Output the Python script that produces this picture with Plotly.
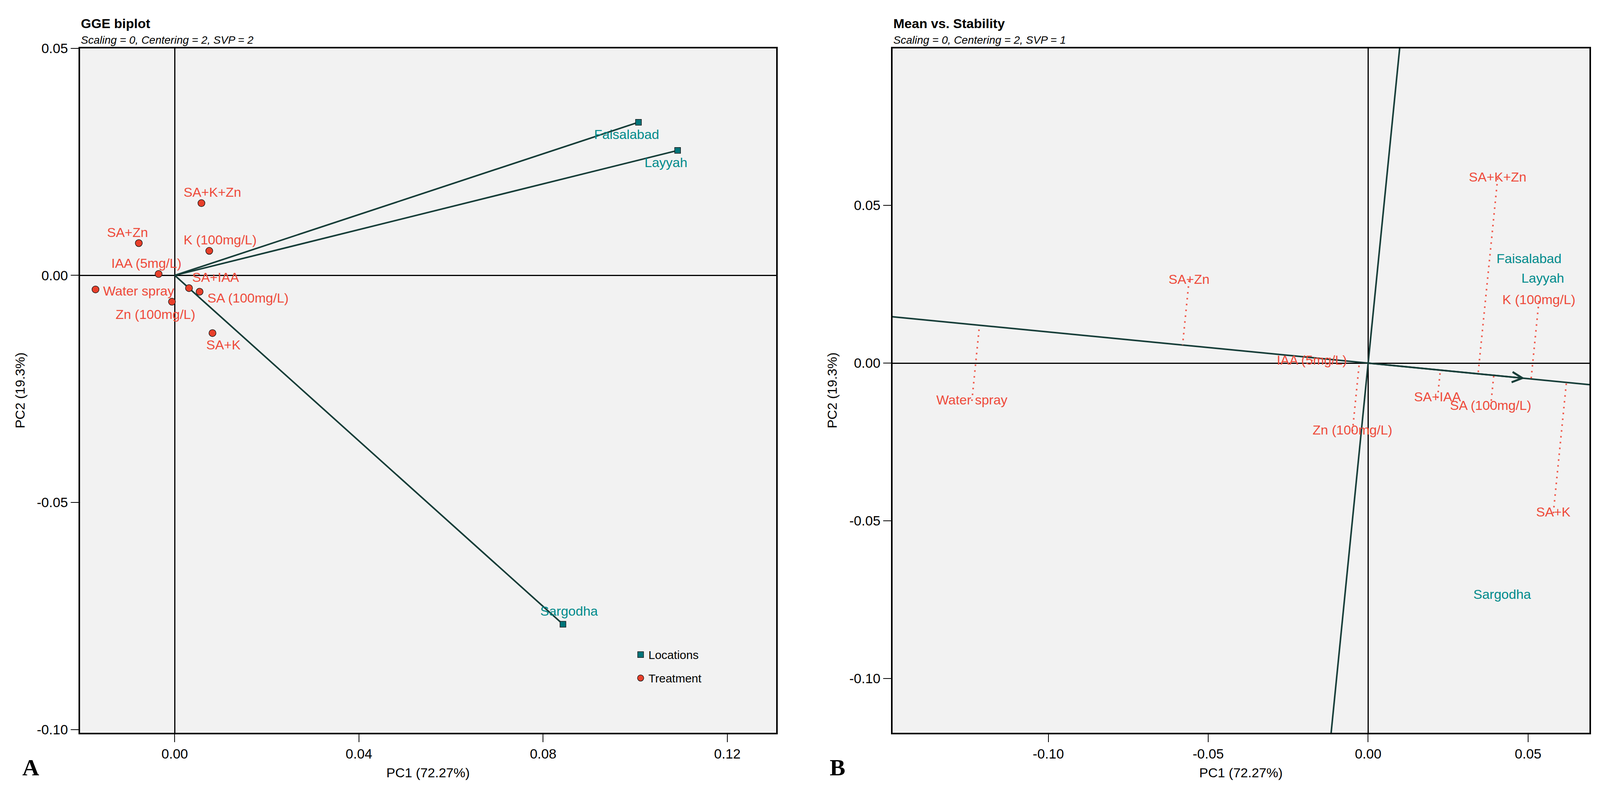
import plotly.graph_objects as go

# ---------------- data ----------------
treatments = ["SA+K+Zn", "SA+Zn", "K (100mg/L)", "IAA (5mg/L)", "Water spray",
              "SA+IAA", "SA (100mg/L)", "Zn (100mg/L)", "SA+K"]
locations = ["Faisalabad", "Layyah", "Sargodha"]

# Panel A: GGE biplot (SVP = 2)
gge_trt_pc1 = [0.0058, -0.0078, 0.0075, -0.0035, -0.0172, 0.0031, 0.0054, -0.0006, 0.0082]
gge_trt_pc2 = [0.0159, 0.0071, 0.0054, 0.0003, -0.0031, -0.0028, -0.0036, -0.0058, -0.0127]
gge_loc_pc1 = [0.1007, 0.1092, 0.0843]
gge_loc_pc2 = [0.0337, 0.0275, -0.0768]

# Panel B: Mean vs. Stability (SVP = 1)
ms_trt_pc1 = [0.0405, -0.0560, 0.0534, -0.0176, -0.1239, 0.0217, 0.0383, -0.0049, 0.0579]
ms_trt_pc2 = [0.0586, 0.0262, 0.0197, 0.0006, -0.0120, -0.0111, -0.0138, -0.0216, -0.0476]
ms_loc_pc1 = [0.0503, 0.0546, 0.0419]
ms_loc_pc2 = [0.0327, 0.0265, -0.0737]

# axis ticks
a_xticks = [0.0, 0.04, 0.08, 0.12]
a_xtick_text = ["0.00", "0.04", "0.08", "0.12"]
a_yticks = [-0.10, -0.05, 0.0, 0.05]
a_ytick_text = ["-0.10", "-0.05", "0.00", "0.05"]
b_xticks = [-0.10, -0.05, 0.0, 0.05]
b_xtick_text = ["-0.10", "-0.05", "0.00", "0.05"]
b_yticks = [-0.10, -0.05, 0.0, 0.05]
b_ytick_text = ["-0.10", "-0.05", "0.00", "0.05"]

# ---------------- styles ----------------
W, H = 4106, 2021
FONT = "Liberation Sans, Arial, sans-serif"
TEAL_TXT = "#008B8B"
TEAL_MK = "#00757A"
RED_TXT = "#EE4A3A"
RED_MK = "#E8402B"
VEC = "#163D38"
BG = "#F2F2F2"
LBL = 34

# label offsets for panel A (px: dx, dy-down, xanchor)
trt_off = [(28, -28, "center"), (-29, -28, "center"), (28, -29, "center"),
           (-31, -28, "center"), (17, 4, "left"), (68, -28, "center"),
           (18, 16, "left"), (-42, 32, "center"), (28, 30, "center")]
loc_off = [(-30, 31, "center"), (-30, 31, "center"), (16, -34, "center")]

fig = go.Figure()

# ---- Panel A ----
vx, vy = [], []
for lx, ly in zip(gge_loc_pc1, gge_loc_pc2):
    vx += [0, lx, None]
    vy += [0, ly, None]
fig.add_trace(go.Scatter(x=vx, y=vy, mode="lines", line=dict(color=VEC, width=4),
                         showlegend=False, hoverinfo="skip", xaxis="x", yaxis="y"))
fig.add_trace(go.Scatter(x=gge_loc_pc1, y=gge_loc_pc2, mode="markers", name="Locations",
                         legendgroup="loc",
                         marker=dict(symbol="square", size=15, color=TEAL_MK,
                                     line=dict(color="#1a1a1a", width=1.5)),
                         xaxis="x", yaxis="y"))
fig.add_trace(go.Scatter(x=gge_trt_pc1, y=gge_trt_pc2, mode="markers", name="Treatment",
                         legendgroup="trt",
                         marker=dict(symbol="circle", size=18, color=RED_MK,
                                     line=dict(color="#1a1a1a", width=1.5)),
                         xaxis="x", yaxis="y"))

annotations = []
for name, px, py, (dx, dy, anc) in zip(treatments, gge_trt_pc1, gge_trt_pc2, trt_off):
    annotations.append(dict(x=px, y=py, xref="x", yref="y", text=name, showarrow=False,
                            xanchor=anc, yanchor="middle", xshift=dx, yshift=-dy,
                            font=dict(family=FONT, size=LBL, color=RED_TXT)))
for name, px, py, (dx, dy, anc) in zip(locations, gge_loc_pc1, gge_loc_pc2, loc_off):
    annotations.append(dict(x=px, y=py, xref="x", yref="y", text=name, showarrow=False,
                            xanchor=anc, yanchor="middle", xshift=dx, yshift=-dy,
                            font=dict(family=FONT, size=LBL, color=TEAL_TXT)))

# ---- Panel B ----
mx = sum(ms_loc_pc1) / len(ms_loc_pc1)
my = sum(ms_loc_pc2) / len(ms_loc_pc2)
k = 20
fig.add_trace(go.Scatter(x=[-k * mx, k * mx], y=[-k * my, k * my], mode="lines",
                         line=dict(color=VEC, width=4), showlegend=False, hoverinfo="skip",
                         xaxis="x2", yaxis="y2"))
fig.add_trace(go.Scatter(x=[k * my, -k * my], y=[-k * mx, k * mx], mode="lines",
                         line=dict(color=VEC, width=4), showlegend=False, hoverinfo="skip",
                         xaxis="x2", yaxis="y2"))
# projections of treatments onto the ATC abscissa
n2 = mx * mx + my * my
dx_, dy_ = [], []
for px, py in zip(ms_trt_pc1, ms_trt_pc2):
    t = (px * mx + py * my) / n2
    dx_ += [px, t * mx, None]
    dy_ += [py, t * my, None]
fig.add_trace(go.Scatter(x=dx_, y=dy_, mode="lines",
                         line=dict(color="#F0584A", width=4, dash="4px,11px"),
                         showlegend=False, hoverinfo="skip", xaxis="x2", yaxis="y2"))
fig.add_trace(go.Scatter(x=ms_trt_pc1, y=ms_trt_pc2, mode="text", text=treatments,
                         textposition="middle center",
                         textfont=dict(family=FONT, size=LBL, color=RED_TXT),
                         showlegend=False, hoverinfo="skip", xaxis="x2", yaxis="y2"))
fig.add_trace(go.Scatter(x=ms_loc_pc1, y=ms_loc_pc2, mode="text", text=locations,
                         textposition="middle center",
                         textfont=dict(family=FONT, size=LBL, color=TEAL_TXT),
                         showlegend=False, hoverinfo="skip", xaxis="x2", yaxis="y2"))
annotations.append(dict(x=mx, y=my, xref="x2", yref="y2", ax=0, ay=0, axref="x2", ayref="y2",
                        text="", showarrow=True, arrowhead=5, arrowsize=1.3, arrowwidth=4,
                        arrowcolor=VEC, standoff=0))

# ---- panel geometry ----
ya_dom = [1 - 1878 / H, 1 - 97 / H]
xa_dom = [197 / W, 1979 / W]
xb_dom = [2277 / W, 4061 / W]

# titles
for x0, t, s in [(197, "GGE biplot", "Scaling = 0, Centering = 2, SVP = 2"),
                 (2277, "Mean vs. Stability", "Scaling = 0, Centering = 2, SVP = 1")]:
    annotations.append(dict(x=x0 / W, y=1 - 33 / H, xref="paper", yref="paper", text="<b>" + t + "</b>",
                            showarrow=False, xanchor="left", yanchor="middle",
                            font=dict(family=FONT, size=34, color="black")))
    annotations.append(dict(x=x0 / W, y=1 - 76 / H, xref="paper", yref="paper", text="<i>" + s + "</i>",
                            showarrow=False, xanchor="left", yanchor="middle",
                            font=dict(family=FONT, size=28, color="black")))
# axis titles
for dom in (xa_dom, xb_dom):
    annotations.append(dict(x=(dom[0] + dom[1]) / 2, y=1 - 1981 / H, xref="paper", yref="paper",
                            text="PC1 (72.27%)", showarrow=False, xanchor="center", yanchor="middle",
                            font=dict(family=FONT, size=34, color="black")))
for xp in (43, 2122):
    annotations.append(dict(x=xp / W, y=(ya_dom[0] + ya_dom[1]) / 2, xref="paper", yref="paper",
                            text="PC2 (19.3%)", showarrow=False, textangle=-90,
                            xanchor="center", yanchor="middle",
                            font=dict(family=FONT, size=34, color="black")))
# panel letters
for xp, letter in [(70, "A"), (2136, "B")]:
    annotations.append(dict(x=xp / W, y=1 - 1968 / H, xref="paper", yref="paper",
                            text="<b>" + letter + "</b>", showarrow=False,
                            xanchor="center", yanchor="middle",
                            font=dict(family="Liberation Serif, Times New Roman, serif",
                                      size=60, color="black")))

axis_common = dict(showline=True, mirror=True, linecolor="black", linewidth=4,
                   ticks="outside", ticklen=20, tickwidth=2, tickcolor="black",
                   showgrid=False, zeroline=True, zerolinecolor="black", zerolinewidth=3,
                   tickfont=dict(family=FONT, size=35, color="black"))

fig.update_layout(
    width=W, height=H,
    margin=dict(l=0, r=0, t=0, b=0),
    paper_bgcolor="white", plot_bgcolor=BG,
    xaxis=dict(domain=xa_dom, range=[-0.02055, 0.1306], tickvals=a_xticks, ticktext=a_xtick_text,
               anchor="y", **axis_common),
    yaxis=dict(domain=ya_dom, range=[-0.1007, 0.0500], tickvals=a_yticks, ticktext=a_ytick_text,
               anchor="x", **axis_common),
    xaxis2=dict(domain=xb_dom, range=[-0.1487, 0.0692], tickvals=b_xticks, ticktext=b_xtick_text,
                anchor="y2", **axis_common),
    yaxis2=dict(domain=ya_dom, range=[-0.1172, 0.0998], tickvals=b_yticks, ticktext=b_ytick_text,
                anchor="x2", **axis_common),
    showlegend=True,
    legend=dict(x=1612 / W, y=1 - 1648 / H, xanchor="left", yanchor="top",
                bgcolor="rgba(0,0,0,0)", font=dict(family=FONT, size=30, color="black"),
                tracegroupgap=18, itemsizing="trace"),
    annotations=annotations,
)

fig.write_html("out.html")
